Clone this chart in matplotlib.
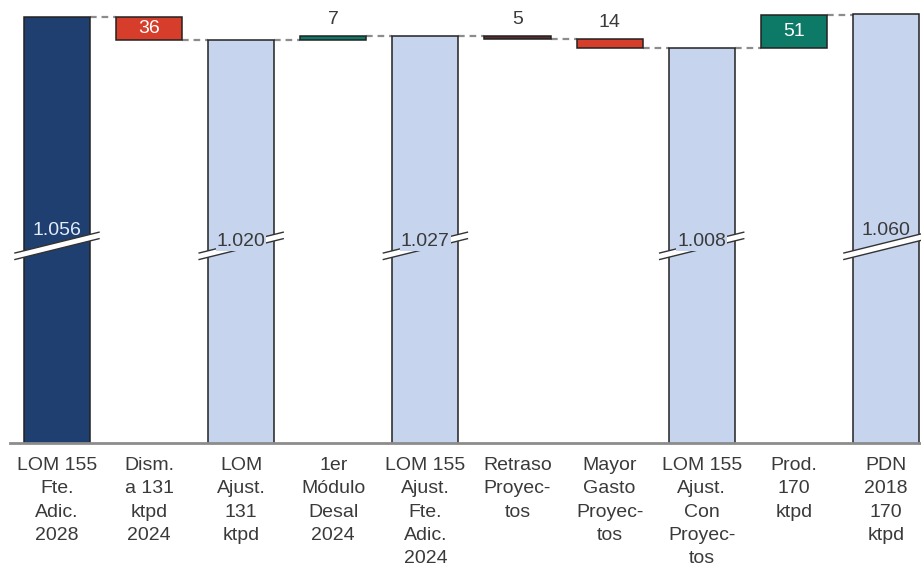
import matplotlib
matplotlib.use("Agg")
import matplotlib.pyplot as plt
from matplotlib.patches import Polygon

plt.rcParams.update({
    "font.family": ["Liberation Sans", "DejaVu Sans"],
    "font.size": 14,
})

# Waterfall steps: totals are full bars, deltas float from the previous level
categories = [
    "LOM 155\nFte.\nAdic.\n2028",
    "Dism.\na 131\nktpd\n2024",
    "LOM\nAjust.\n131\nktpd",
    "1er\nMódulo\nDesal\n2024",
    "LOM 155\nAjust.\nFte.\nAdic.\n2024",
    "Retraso\nProyec-\ntos",
    "Mayor\nGasto\nProyec-\ntos",
    "LOM 155\nAjust.\nCon\nProyec-\ntos",
    "Prod.\n170\nktpd",
    "PDN\n2018\n170\nktpd",
]
values = [1056, -36, 1020, 7, 1027, -5, -14, 1008, 51, 1060]
is_total = [True, False, True, False, True, False, False, True, False, True]
value_labels = ["1.056", "36", "1.020", "7", "1.027", "5", "14", "1.008", "51", "1.060"]

colors = ["#1E3F6F", "#D63D2B", "#C6D4EE", "#0C7A66", "#C6D4EE",
          "#5A2F2F", "#D63D2B", "#C6D4EE", "#0C7A66", "#C6D4EE"]
label_colors = ["#E4ECFA", "white", "#3A3A3A", "#3A3A3A", "#3A3A3A",
                "#3A3A3A", "#3A3A3A", "#3A3A3A", "white", "#3A3A3A"]

EDGE = "#222222"
CONNECT = "#8C8C8C"
WIDTH = 0.717
BREAK_Y = 704       # centre of the axis-break band
BREAK_RISE = 32     # rise of the band across one bar
BREAK_GAP = 10      # thickness of the band
BREAK_EXT = 0.098   # how far the band sticks out past the bar

fig = plt.figure(figsize=(9.21, 5.71), dpi=100)
ax = fig.add_axes([10 / 921, 1 - 443 / 571, 911 / 921, 443 / 571])
ax.set_xlim(-0.510, 9.381)
ax.set_ylim(400.7, 1082.2)

level = 0
spans = []
for i, (v, tot) in enumerate(zip(values, is_total)):
    if tot:
        lo, hi = 0, v
        start, end = v, v
    else:
        start, end = level, level + v
        lo, hi = min(start, end), max(start, end)
    spans.append((start, end, lo, hi))
    level = end
    ax.bar(i, hi - lo, bottom=lo, width=WIDTH, color=colors[i],
           edgecolor=EDGE, linewidth=1.1, zorder=2)

# dashed connectors between neighbouring bars
for i in range(len(values) - 1):
    y = spans[i][1]
    ax.plot([i + WIDTH / 2, i + 1 - WIDTH / 2], [y, y], color=CONNECT,
            linewidth=1.6, linestyle=(0, (3, 2.2)), zorder=1)

# break marks on the total bars
for i, tot in enumerate(is_total):
    if not tot:
        continue
    xl = i - WIDTH / 2 - BREAK_EXT
    xr = i + WIDTH / 2 + BREAK_EXT
    yl = BREAK_Y - BREAK_RISE / 2
    yr = BREAK_Y + BREAK_RISE / 2
    g = BREAK_GAP / 2
    band = Polygon([(xl, yl - g), (xr, yr - g), (xr, yr + g), (xl, yl + g)],
                   closed=True, facecolor="white", edgecolor="none",
                   zorder=3, clip_on=False)
    ax.add_patch(band)
    for s in (-g, g):
        ax.plot([xl, xr], [yl + s, yr + s], color="#333333", linewidth=1.0,
                zorder=4, clip_on=False)

# value labels
for i, (v, tot) in enumerate(zip(values, is_total)):
    start, end, lo, hi = spans[i]
    if tot:
        ends = i in (0, len(values) - 1)
        y = BREAK_Y + (23 if ends else 7)
        bbox = None if ends else dict(facecolor=colors[i], edgecolor="none", pad=0.5)
        ax.text(i, y, value_labels[i], ha="center", va="center",
                color=label_colors[i], fontsize=14, zorder=5, bbox=bbox)
    elif hi - lo > 25:
        ax.text(i, (lo + hi) / 2, value_labels[i], ha="center", va="center",
                color=label_colors[i], fontsize=14, zorder=5)
    else:
        ax.annotate(value_labels[i], (i, hi), xytext=(0, 12),
                    textcoords="offset points", ha="center", va="center",
                    color=label_colors[i], fontsize=14, zorder=5)

ax.set_xticks(range(len(categories)))
ax.set_xticklabels(categories, color="#3A3A3A", fontsize=14, linespacing=1.49)
ax.tick_params(axis="x", length=0, pad=10)
ax.set_yticks([])
for side in ("top", "right", "left"):
    ax.spines[side].set_visible(False)
ax.spines["bottom"].set_color("#8C8C8C")
ax.spines["bottom"].set_linewidth(2)
ax.spines["bottom"].set_zorder(6)

fig.savefig("out.png", dpi=100)
